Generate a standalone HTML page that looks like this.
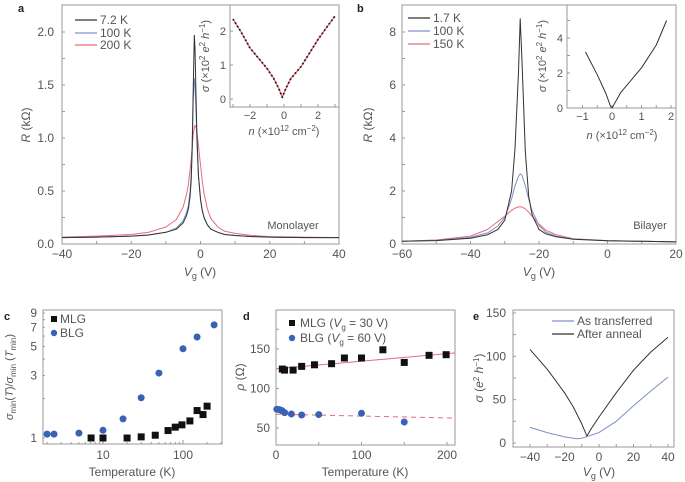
<!DOCTYPE html>
<html><head><meta charset="utf-8">
<style>
html,body{margin:0;padding:0;background:#fff;}
svg{display:block;font-family:"Liberation Sans",sans-serif;}
text{fill:#555;}
</style></head>
<body>
<svg id="fig" width="685" height="482" viewBox="0 0 685 482" xmlns="http://www.w3.org/2000/svg"></svg>
<script>
// ---- Panel a data ----
const aVg=[-40,-30,-20,-15,-10,-7,-5,-4,-3.5,-3,-2.7,-2.4,-2.1,-1.8,-1.6,-1.3,-1,-0.6,0,0.5,1,2,3,5,7,10,15,20,30,40];
const aR7=[0.06,0.065,0.075,0.085,0.11,0.14,0.20,0.27,0.33,0.45,0.6,0.9,1.45,1.97,1.85,1.4,1.0,0.65,0.42,0.32,0.25,0.18,0.14,0.11,0.09,0.08,0.07,0.065,0.06,0.06];
const aR100=[0.06,0.065,0.075,0.085,0.11,0.15,0.22,0.3,0.36,0.5,0.65,0.95,1.35,1.56,1.5,1.25,0.95,0.65,0.43,0.32,0.25,0.18,0.14,0.11,0.09,0.08,0.07,0.065,0.06,0.06];
const aR200=[0.065,0.075,0.09,0.11,0.16,0.23,0.35,0.47,0.56,0.7,0.8,0.92,1.03,1.1,1.12,1.1,1.05,0.93,0.75,0.6,0.48,0.33,0.24,0.16,0.12,0.1,0.08,0.07,0.065,0.06];
const aInN=[-3,-2.5,-2,-1.5,-1,-0.6,-0.3,-0.1,0.1,0.4,1,1.5,2,2.5,3];
const aInS=[2.35,1.95,1.5,1.2,0.9,0.6,0.3,0.05,0.3,0.6,0.95,1.35,1.75,2.1,2.44];
// ---- Panel b data ----
const bVg=[-60,-50,-40,-35,-32,-30,-28,-27,-26,-25.5,-25,-24,-23,-22,-20,-18,-15,-10,0,10,20];
const bR17=[0.1,0.13,0.22,0.35,0.55,0.9,2.0,3.6,6.5,8.5,7.0,3.5,1.8,1.1,0.55,0.38,0.27,0.18,0.12,0.1,0.08];
const bR100=[0.1,0.14,0.25,0.42,0.68,1.0,1.7,2.2,2.55,2.65,2.6,2.2,1.7,1.25,0.7,0.45,0.3,0.19,0.12,0.1,0.08];
const bR150=[0.1,0.15,0.3,0.55,0.85,1.05,1.27,1.35,1.4,1.4,1.4,1.33,1.2,1.05,0.75,0.52,0.35,0.2,0.13,0.1,0.08];
const bInN=[-0.9,-0.5,-0.2,-0.05,0,0.1,0.3,0.5,1,1.5,1.85];
const bInS=[3.2,1.9,0.8,0.1,0.0,0.3,0.9,1.3,2.3,3.6,5.0];
// ---- Panel c data ----
const cBlgT=[2.0,2.44,5,10,17.8,30,50,100,150,245];
const cBlgV=[1.07,1.07,1.09,1.145,1.40,2.03,3.13,4.8,5.9,7.3];
const cMlgT=[7.1,10,20,30,45,65,80,97,122,150,178,200];
const cMlgV=[1.0,1.0,1.0,1.02,1.05,1.14,1.21,1.26,1.35,1.62,1.51,1.75];
// ---- Panel d data ----
const dMlgT=[7.4,10,20,30,45,65,80,100,125,150,179,199];
const dMlgR=[124.6,123.3,123.3,128,130,131.4,138.6,138.6,149,133,142,142.8];
const dBlgT=[1,4,7,10,18,30,50,100,150];
const dBlgR=[73.7,73.3,72,69.5,67.8,66.5,67,68.6,57.6];
const dFitMlgT=[0,210]; const dFitMlgR=[125,145];
const dFitBlgT=[0,210]; const dFitBlgR=[67.5,62.5];
// ---- Panel e data ----
const eVgAnneal=[-40,-30,-20,-15,-10,-7,-5,0,10,20,30,40];
const eSAnneal=[108,85,58,42,22,8,15,30,58,84,105,122];
const eVgTrans=[-40,-30,-20,-13,-10,0,10,20,30,40];
const eSTrans=[18,12,7,5,5.5,12,25,43,60,76];

const NS="http://www.w3.org/2000/svg";
const svg=document.getElementById('fig');
function mk(tag,attrs,parent){const e=document.createElementNS(NS,tag);for(const k in attrs)e.setAttribute(k,attrs[k]);(parent||svg).appendChild(e);return e;}
function txt(x,y,s,anchor,size,extra){const t=mk('text',Object.assign({x:x,y:y,'text-anchor':anchor||'middle','font-size':size||12},extra||{}));t.innerHTML=s;return t;}
const AX='#9a9a9a';

// scales
const xA=v=>62+(v+40)*(277/80), yA=r=>244-r*106;
const xAi=n=>284+n*17, yAi=s=>99-s*34;
const xB=v=>402+(v+60)*3.425, yB=r=>244-r*26.5;
const xBi=n=>612+n*29.5, yBi=s=>108-s*17.5;
const xC=t=>103+(Math.log10(t)-1)*80, yC=v=>438-Math.log10(v)*131;
const xD=t=>276+t*0.855, yD=r=>428-(r-50)*0.79;
const xE=v=>530+(v+40)*1.725, yE=s=>443-s*0.867;

function frame(x0,y0,x1,y1,name,fill){
  const r=mk('rect',{x:x0,y:y0,width:x1-x0,height:y1-y0,fill:fill||'none',stroke:AX,'stroke-width':1});
  
  
}
function xticks(vals,sx,ybot,len,labels,ly,name,size){
  vals.forEach((v,i)=>{
    const l=mk('line',{x1:sx(v),x2:sx(v),y1:ybot,y2:ybot-len,stroke:AX});
    
    
    if(labels&&labels[i]!==''&&labels[i]!==undefined){const t=txt(sx(v),ly,labels[i],'middle',size||12);
      
      }
  });
}
function yticks(vals,sy,xl,len,labels,lx,name,size){
  vals.forEach((v,i)=>{
    const l=mk('line',{x1:xl,x2:xl+len,y1:sy(v),y2:sy(v),stroke:AX});
    
    
    if(labels&&labels[i]!==''&&labels[i]!==undefined){const t=txt(lx,sy(v)+4,labels[i],'end',size||12);
      
      }
  });
}
function line(xs,ys,sx,sy,color,name,extra){
  const d=xs.map((v,i)=>(i?'L':'M')+sx(v).toFixed(1)+','+sy(ys[i]).toFixed(1)).join('');
  const p=mk('path',Object.assign({d:d,fill:'none',stroke:color,'stroke-width':1,'stroke-linejoin':'round'},extra||{}));
  
  
  return p;
}
function label(x,y,s,name,rot,size,extra){
  const t=txt(x,y,s,'middle',size||12,Object.assign(rot?{transform:'rotate(-90 '+x+' '+y+')'}:{},extra||{}));
  
  
  return t;
}
function letter(x,y,s){const t=txt(x,y,s,'start',11,{'font-weight':'bold',style:'fill:#222'});
  
  }
function legendLine(x,y,color,s,name){
  const l=mk('line',{x1:x,x2:x+22,y1:y,y2:y,stroke:color,'stroke-width':1.2});
  
  
  const t=txt(x+25,y+4,s,'start',12);
  
  
}
const BLK='#333', BLU='#7f90c8', RED='#e86a7a';

// ================= Panel a =================
letter(18,12,'a');
frame(62,5,339,244,'panel-a-frame');
xticks([-40,-30,-20,-10,0,10,20,30,40],xA,244,3,['−40','','−20','','0','','20','','40'],258,'panel-a-x');
yticks([0,0.25,0.5,0.75,1,1.25,1.5,1.75,2],yA,62,3,['0.0','','0.5','','1.0','','1.5','','2.0'],54,'panel-a-y');
label(30,125,'<tspan font-style="italic">R</tspan> (kΩ)','panel-a-y-axis-title',true);
label(200,276,'<tspan font-style="italic">V</tspan><tspan font-size="9" dy="3">g</tspan><tspan dy="-3"> (V)</tspan>','panel-a-x-axis-title');
line(aVg,aR200,xA,yA,RED,'panel-a-200k-curve');
line(aVg,aR100,xA,yA,BLU,'panel-a-100k-curve');
line(aVg,aR7,xA,yA,BLK,'panel-a-7k-curve');
legendLine(75,20,BLK,'7.2 K','legend-a-7k');
legendLine(75,33,BLU,'100 K','legend-a-100k');
legendLine(75,45,RED,'200 K','legend-a-200k');
label(293,229,'Monolayer','panel-a-annotation',false,11);
// inset a
frame(230,5,339,107,'panel-a-inset-frame','#fff');
xticks([-3,-2,-1,0,1,2,3],xAi,107,3,['','−2','','0','','2',''],119,'panel-a-inset-x',11);
yticks([0,1,2],yAi,230,3,['0','1','2'],226,'panel-a-inset-y',11);
label(209,56,'<tspan font-style="italic">σ</tspan> (×10<tspan font-size="8" dy="-4">2</tspan><tspan dy="4"> </tspan><tspan font-style="italic">e</tspan><tspan font-size="8" dy="-4">2</tspan><tspan dy="4"> </tspan><tspan font-style="italic">h</tspan><tspan font-size="8" dy="-4">−1</tspan><tspan dy="4">)</tspan>','panel-a-inset-y-title',true,11);
label(284,135,'<tspan font-style="italic">n</tspan> (×10<tspan font-size="8" dy="-4">12</tspan><tspan dy="4"> cm</tspan><tspan font-size="8" dy="-4">−2</tspan><tspan dy="4">)</tspan>','panel-a-inset-x-title',false,11);
line(aInN,aInS,xAi,yAi,RED,'panel-a-inset-fit',{'stroke-width':1.3});
line(aInN,aInS,xAi,yAi,'#111','panel-a-inset-data',{'stroke-dasharray':'1.5 2.5','stroke-width':1.8});

// ================= Panel b =================
letter(357,12,'b');
frame(402,5,676,244,'panel-b-frame');
xticks([-60,-50,-40,-30,-20,-10,0,10,20],xB,244,3,['−60','','−40','','−20','','0','','20'],258,'panel-b-x');
yticks([0,1,2,3,4,5,6,7,8],yB,402,3,['0','','2','','4','','6','','8'],396,'panel-b-y');
label(372,125,'<tspan font-style="italic">R</tspan> (kΩ)','panel-b-y-axis-title',true);
label(539,276,'<tspan font-style="italic">V</tspan><tspan font-size="9" dy="3">g</tspan><tspan dy="-3"> (V)</tspan>','panel-b-x-axis-title');
line(bVg,bR150,xB,yB,RED,'panel-b-150k-curve');
line(bVg,bR100,xB,yB,BLU,'panel-b-100k-curve');
line(bVg,bR17,xB,yB,BLK,'panel-b-1p7k-curve');
legendLine(408,18,BLK,'1.7 K','legend-b-1p7k');
legendLine(408,31,BLU,'100 K','legend-b-100k');
legendLine(408,44,RED,'150 K','legend-b-150k');
label(650,229,'Bilayer','panel-b-annotation',false,11);
// inset b
frame(567,5,676,108,'panel-b-inset-frame','#fff');
xticks([-1,-0.5,0,0.5,1,1.5,2],xBi,108,3,['−1','','0','','1','','2'],120,'panel-b-inset-x',11);
yticks([0,1,2,3,4,5],yBi,567,3,['0','','2','','4',''],563,'panel-b-inset-y',11);
label(546,56,'<tspan font-style="italic">σ</tspan> (×10<tspan font-size="8" dy="-4">2</tspan><tspan dy="4"> </tspan><tspan font-style="italic">e</tspan><tspan font-size="8" dy="-4">2</tspan><tspan dy="4"> </tspan><tspan font-style="italic">h</tspan><tspan font-size="8" dy="-4">−1</tspan><tspan dy="4">)</tspan>','panel-b-inset-y-title',true,11);
label(622,139,'<tspan font-style="italic">n</tspan> (×10<tspan font-size="8" dy="-4">12</tspan><tspan dy="4"> cm</tspan><tspan font-size="8" dy="-4">−2</tspan><tspan dy="4">)</tspan>','panel-b-inset-x-title',false,11);
line(bInN,bInS,xBi,yBi,'#333','panel-b-inset-data');

// ================= Panel c =================
letter(4,320,'c');
frame(43,310,222,444,'panel-c-frame');
const cMinor=[2,3,4,5,6,7,8,9,20,30,40,50,60,70,80,90,200,300];
xticks(cMinor,xC,444,2,null,0,'panel-c-x-minor');
xticks([10,100],xC,444,4,['10','100'],459,'panel-c-x');
yticks([1,2,3,4,5,6,7,8,9],yC,43,2,['1','','3','','5','','7','','9'],37,'panel-c-y');
label(13,377,'<tspan font-style="italic">σ</tspan><tspan font-size="8" dy="3">min</tspan><tspan dy="-3">(</tspan><tspan font-style="italic">T</tspan>)/<tspan font-style="italic">σ</tspan><tspan font-size="8" dy="3">min</tspan><tspan dy="-3"> (</tspan><tspan font-style="italic">T</tspan><tspan font-size="8" dy="3">min</tspan><tspan dy="-3">)</tspan>','panel-c-y-axis-title',true,11);
label(132,476,'Temperature (K)','panel-c-x-axis-title');
cBlgT.forEach((t,i)=>{const c=mk('circle',{cx:xC(t),cy:yC(cBlgV[i]),r:3.5,fill:'#3a62b4'});
  
  });
cMlgT.forEach((t,i)=>{const s=mk('rect',{x:xC(t)-3.5,y:yC(cMlgV[i])-3.5,width:7,height:7,fill:'#111'});
  
  });
{const s=mk('rect',{x:51,y:316,width:6,height:6,fill:'#111'});
 
 
 const t=txt(60,323,'MLG','start',12);
 const c=mk('circle',{cx:54,cy:333,r:3.2,fill:'#3a62b4'});
 
 
 const t2=txt(60,337,'BLG','start',12);}

// ================= Panel d =================
letter(243,320,'d');
frame(276,310,455,445,'panel-d-frame');
xticks([0,50,100,150,200],xD,445,3,['0','','100','','200'],459,'panel-d-x');
yticks([50,75,100,125,150,175],yD,276,3,['50','','100','','150',''],270,'panel-d-y');
label(244,377,'<tspan font-style="italic">ρ</tspan> (Ω)','panel-d-y-axis-title',true);
label(365,476,'Temperature (K)','panel-d-x-axis-title');
line(dFitMlgT,dFitMlgR,xD,yD,RED,'panel-d-mlg-fit');
line(dFitBlgT,dFitBlgR,xD,yD,RED,'panel-d-blg-fit',{'stroke-dasharray':'5 4'});
dMlgT.forEach((t,i)=>{const s=mk('rect',{x:xD(t)-3.5,y:yD(dMlgR[i])-3.5,width:7,height:7,fill:'#111'});
  
  });
dBlgT.forEach((t,i)=>{const c=mk('circle',{cx:xD(t),cy:yD(dBlgR[i]),r:3.5,fill:'#3a62b4'});
  
  });
{const s=mk('rect',{x:289,y:320,width:6,height:6,fill:'#111'});
 
 
 const t=txt(300,327,'MLG (<tspan font-style="italic">V</tspan><tspan font-size="8" dy="3">g</tspan><tspan dy="-3"> = 30 V)</tspan>','start',12);
 
 const c=mk('circle',{cx:292,cy:338,r:3.2,fill:'#3a62b4'});
 
 
 const t2=txt(300,342,'BLG (<tspan font-style="italic">V</tspan><tspan font-size="8" dy="3">g</tspan><tspan dy="-3"> = 60 V)</tspan>','start',12);
 }

// ================= Panel e =================
letter(473,320,'e');
frame(513,310,674,447,'panel-e-frame');
xticks([-40,-30,-20,-10,0,10,20,30,40],xE,447,3,['−40','','−20','','0','','20','','40'],461,'panel-e-x');
yticks([0,25,50,75,100,125,150],yE,513,3,['0','','50','','100','','150'],506,'panel-e-y');
label(483,378,'<tspan font-style="italic">σ</tspan> (<tspan font-style="italic">e</tspan><tspan font-size="8" dy="-4">2</tspan><tspan dy="4"> </tspan><tspan font-style="italic">h</tspan><tspan font-size="8" dy="-4">−1</tspan><tspan dy="4">)</tspan>','panel-e-y-axis-title',true);
label(599,476,'<tspan font-style="italic">V</tspan><tspan font-size="9" dy="3">g</tspan><tspan dy="-3"> (V)</tspan>','panel-e-x-axis-title');
line(eVgTrans,eSTrans,xE,yE,BLU,'panel-e-as-transferred-curve');
line(eVgAnneal,eSAnneal,xE,yE,BLK,'panel-e-after-anneal-curve');
legendLine(552,321,BLU,'As transferred','legend-e-as-transferred');
legendLine(552,334,BLK,'After anneal','legend-e-after-anneal');
</script>
</body></html>
